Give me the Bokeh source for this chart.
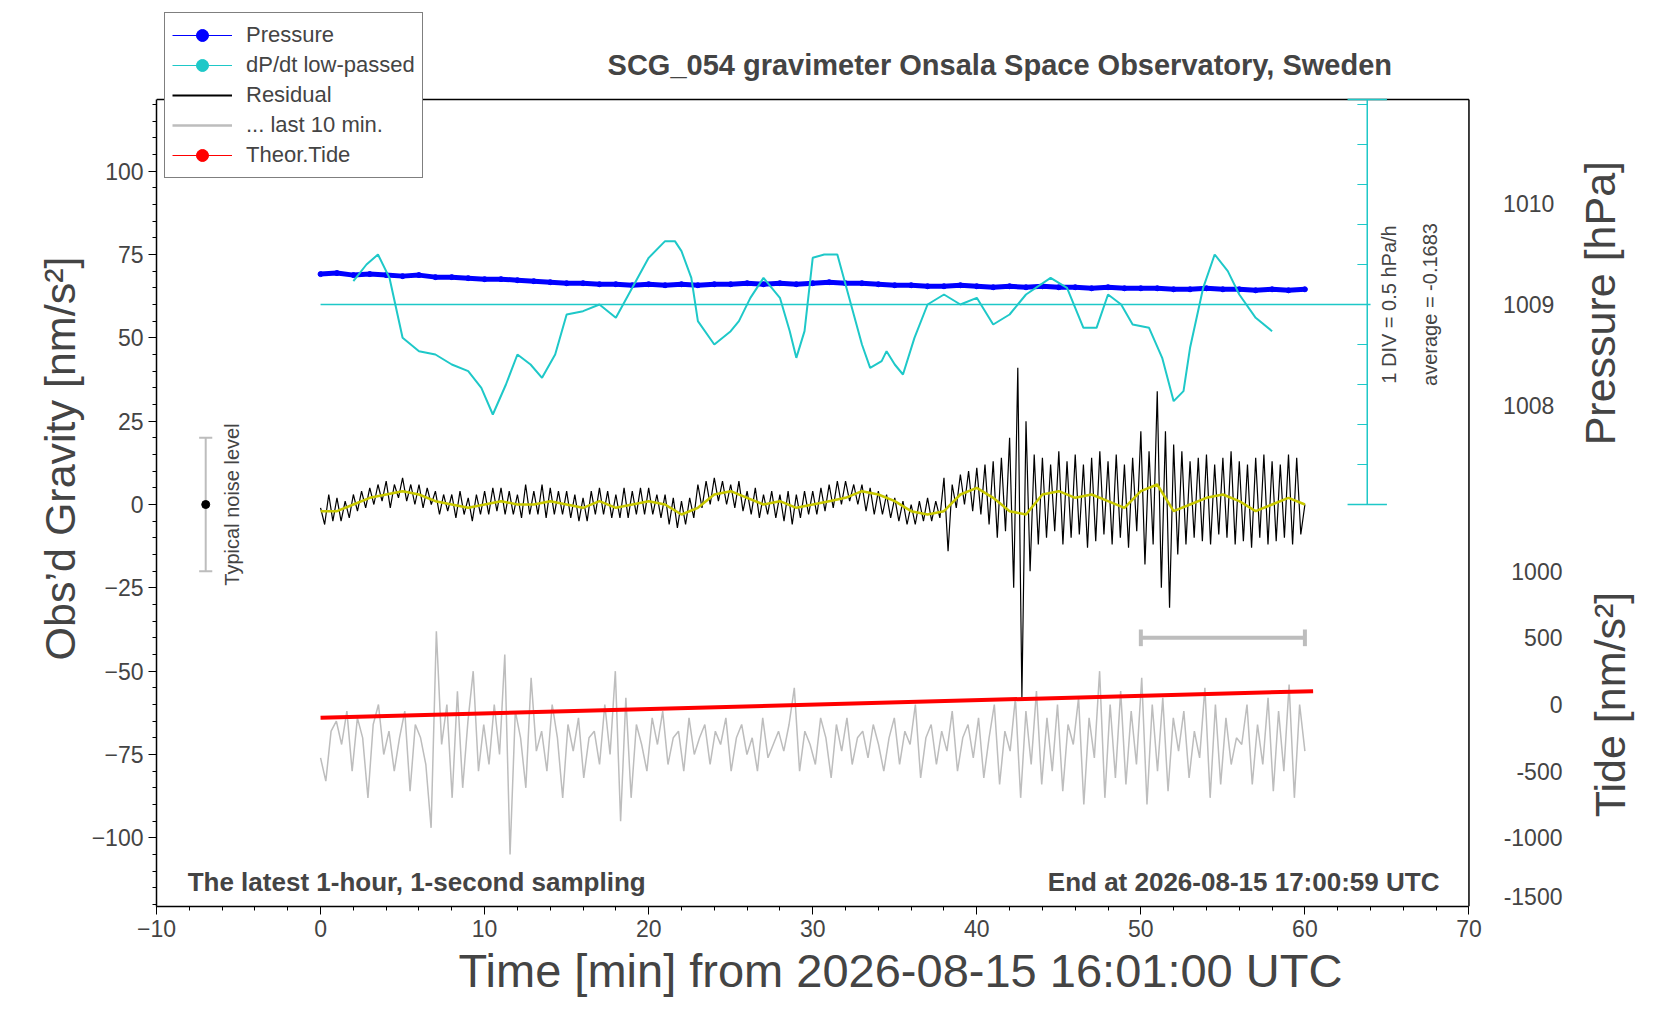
import numpy as np
from bokeh.plotting import figure
from bokeh.models import Range1d, FixedTicker, Label, Legend, LegendItem
from bokeh.embed import file_html
from bokeh.resources import INLINE

FONT = "Liberation Sans"

# ---------------- data ----------------
pressure_t = list(range(0, 61))
pressure_hpa = [1009.30,1009.31,1009.29,1009.30,1009.29,1009.28,1009.29,1009.27,1009.27,1009.26,
                1009.25,1009.25,1009.24,1009.23,1009.22,1009.21,1009.21,1009.20,1009.20,1009.19,
                1009.20,1009.19,1009.20,1009.19,1009.20,1009.20,1009.21,1009.20,1009.21,1009.20,
                1009.21,1009.22,1009.21,1009.21,1009.20,1009.19,1009.19,1009.18,1009.18,1009.19,
                1009.18,1009.17,1009.18,1009.17,1009.18,1009.17,1009.17,1009.16,1009.17,1009.16,
                1009.16,1009.16,1009.15,1009.15,1009.16,1009.15,1009.15,1009.14,1009.15,1009.14,1009.15]

dpdt_t = [2,2.8,3.5,4.2,5,6,7,8,9,9.8,10.5,11.3,12,12.8,13.5,14.3,15,16,17,18,19,20,21,21.6,
          22,22.6,23,24,25,25.5,26.2,27,28,28.6,29,29.5,30,30.7,31.5,32,32.5,33,33.5,34.2,34.5,
          35,35.5,36.2,37,38,39,40,41,42,43,44.5,45.5,46.5,47.3,48,48.8,49.5,50.5,51.3,52,52.6,
          53,53.8,54.5,55.3,56,57,58]
dpdt_v = [67,72,75,68,50,46,45,42,40,35,27,36,45,42,38,45,57,58,60,56,65,74,79,79,
          76,68,55,48,52,55,62,68,62,52,44,52,74,75,75,66,57,48,41,43,46,
          42,39,50,60,63,60,62,54,57,63,68,65,53,53,63,60,54,53,44,31,34,
          47,65,75,70,63,56,52]

smooth_v = [-2,-2,0,2,3,4,3,1,0,-1,0,1,0,0,1,0,-1,1,-1,0,1,0,-3,-1,3,4,2,0,1,-1,
            0,1,2,4,3,1,-2,-3,-2,3,5,2,-2,-3,3,4,2,3,1,-1,4,6,-2,0,2,3,1,-2,0,2,0]

residual_rows = [
 [-1,-6,3,-5],[2,-5,1,-4],[3,-2,4,-1],[5,0,6,1],[7,-1,6,2],[8,1,6,0],[6,-1,5,0],[4,-3,3,-2],
 [3,-4,4,-3],[2,-5,3,-3],[4,-3,5,-2],[5,-3,4,-3],[3,-4,6,-3],[4,-3,6,-4],[5,-3,4,-3],[4,-4,3,-5],
 [2,-5,4,-3],[5,-3,4,-4],[3,-4,5,-4],[4,-3,5,-3],[5,-3,3,-4],[3,-6,2,-7],[1,-6,2,-4],[6,-1,7,0],
 [8,1,7,0],[6,-1,7,-2],[4,-3,5,-4],[3,-3,4,-4],[3,-5,4,-6],[3,-4,4,-3],[4,-3,5,-2],[6,-1,7,0],
 [7,1,6,0],[6,-2,5,-3],[4,-3,3,-4],[2,-5,1,-6],[0,-6,1,-5],[2,-5,1,-4],[8,-14,6,-1],[9,0,10,-2],
 [11,-3,12,-6],[13,-10,14,-8],[20,-25,41,-58],[25,-20,15,-12],[14,-10,12,-8],[16,-12,13,-10],
 [15,-9,12,-13],[14,-11,16,-9],[13,-12,15,-10],[12,-13,14,-8],[22,-18,16,-12],[34,-25,22,-31],
 [18,-15,16,-12],[13,-10,14,-11],[15,-12,12,-9],[14,-10,16,-12],[13,-11,12,-13],[14,-10,15,-12],
 [13,-11,12,-10],[15,-12,14,-9]]
residual_end = 0

gray_v = [
 -76,-83,-68,-65, -72,-62,-80,-64, -70,-88,-66,-60, -75,-68,-80,-70, -62,-86,-66,-70,
 -78,-97,-38,-72, -60,-88,-56,-85, -65,-50,-80,-66, -78,-60,-75,-45, -105,-62,-70,-85,
 -52,-74,-68,-80, -60,-70,-88,-66, -74,-64,-82,-70, -68,-78,-60,-75, -50,-95,-58,-88,
 -66,-72,-80,-64, -72,-62,-78,-70, -68,-80,-64,-75, -70,-66,-78,-68, -72,-64,-80,-70,
 -66,-75,-70,-80, -64,-76,-72,-68, -74,-66,-55,-80, -68,-72,-78,-64, -70,-82,-66,-74,
 -64,-78,-70,-68, -76,-66,-72,-80, -70,-64,-78,-68, -72,-60,-82,-70, -66,-78,-68,-74,
 -62,-80,-70,-66, -76,-64,-82,-70, -60,-84,-68,-74, -58,-88,-62,-78, -56,-84,-64,-80,
 -60,-86,-66,-72, -58,-90,-64,-76, -50,-88,-60,-82, -56,-84,-62,-78, -52,-90,-60,-80,
 -58,-86,-64,-74, -62,-82,-68,-76, -55,-88,-60,-84, -64,-78,-70,-72, -60,-84,-66,-78,
 -58,-86,-62,-80, -54,-88,-60,-74]

tide_t = [0, 60.5]
tide_v = [-64, -56]   # in left-axis units

press_ticks = [1008, 1009, 1010]
tide_ticks = [1000, 500, 0, -500, -1000, -1500]

def p2g(v):
    return 60 + (v - 1009) * 30.4

def t2g(v):
    return -60 + v * 0.04

residual_v = [v for row in residual_rows for v in row] + [residual_end]
res_t = np.arange(len(residual_v)) * 0.25
gray_t = np.arange(len(gray_v)) * (60.0 / (len(gray_v) - 1))

CYAN = "#1ec8c8"
YB, YT = -120.6, 121.5
p = figure(width=1644, height=1004, output_backend="svg", toolbar_location=None,
           x_range=Range1d(-10, 80.7), y_range=Range1d(YB, 148.2),
           min_border_left=156, min_border_right=0, min_border_top=10, min_border_bottom=98)
p.grid.visible = False
p.outline_line_color = None

p.xaxis.ticker = FixedTicker(ticks=list(range(-10, 71, 10)), minor_ticks=list(range(-10, 71, 2)))
p.yaxis.ticker = FixedTicker(ticks=[-100, -75, -50, -25, 0, 25, 50, 75, 100],
                             minor_ticks=list(range(-120, 121, 5)))
p.xaxis.bounds = (-10, 70)
p.yaxis.bounds = (YB, YT)
for ax in (p.xaxis[0], p.yaxis[0]):
    ax.major_label_text_font = FONT
    ax.major_label_text_font_size = "23px"
    ax.axis_label_text_font = FONT
    ax.axis_label_text_font_style = "normal"
    ax.axis_line_width = 1.5
    ax.major_tick_out = 8
    ax.minor_tick_out = 4
    ax.major_tick_in = 0
    ax.minor_tick_in = 0
p.xaxis.axis_label = "Time [min] from 2026-08-15 16:01:00 UTC"
p.xaxis.axis_label_text_font_size = "47px"
p.xaxis.axis_label_standoff = 4
p.yaxis.axis_label = "Obs\u2019d Gravity [nm/s\u00b2]"
p.yaxis.axis_label_text_font_size = "43px"

# frame top and right edges
p.line([-10, 70], [YT, YT], line_color="black", line_width=1.5)
p.line([70, 70], [YB, YT], line_color="black", line_width=1.5)

# gray last 10 min
p.line(gray_t, gray_v, line_color="#bdbdbd", line_width=1.5)
# residual
p.line(res_t, residual_v, line_color="black", line_width=1.2)
p.line(list(range(0, 61)), smooth_v, line_color="#c8c800", line_width=2.5)
# tide
p.line(tide_t, tide_v, line_color="red", line_width=4)
# pressure
pg = [p2g(v) for v in pressure_hpa]
p.line(pressure_t, pg, line_color="blue", line_width=5)
p.scatter(pressure_t, pg, color="blue", size=5)
# dP/dt
p.line(dpdt_t, dpdt_v, line_color=CYAN, line_width=2)
p.line([0, 64], [60, 60], line_color=CYAN, line_width=1.5)
p.line([63.8, 63.8], [0, YT], line_color=CYAN, line_width=1.5)
div_ticks = [12 * i for i in range(11)]
p.segment(x0=[63.2] * len(div_ticks), y0=div_ticks, x1=[63.8] * len(div_ticks), y1=div_ticks,
          line_color=CYAN, line_width=1)
p.segment(x0=[62.6, 62.6], y0=[0, YT], x1=[65.0, 65.0], y1=[0, YT], line_color=CYAN, line_width=1.5)

# 10 min bar
p.segment(x0=[50], y0=[-40], x1=[60], y1=[-40], line_color="#bdbdbd", line_width=4)
p.segment(x0=[50, 60], y0=[-42.5, -42.5], x1=[50, 60], y1=[-37.5, -37.5], line_color="#bdbdbd", line_width=4)

# noise level
p.segment(x0=[-7], y0=[-20], x1=[-7], y1=[20], line_color="#bdbdbd", line_width=2)
p.segment(x0=[-7.4, -7.4], y0=[-20, 20], x1=[-6.6, -6.6], y1=[-20, 20], line_color="#bdbdbd", line_width=2)
p.scatter([-7], [0], color="black", size=8)

def lab(x, y, t, size, bold=False, align="left", angle=0, baseline="middle"):
    p.add_layout(Label(x=x, y=y, text=t, text_font=FONT, text_font_size=size,
                       text_font_style="bold" if bold else "normal", text_align=align,
                       text_baseline=baseline, angle=angle, angle_units="deg"))

# right axis tick labels
for v in press_ticks:
    lab(75.2, p2g(v), str(v), "23px", align="right")
for v in tide_ticks:
    lab(75.7, t2g(v), str(v), "23px", align="right",
        baseline="bottom" if v == -1500 else "middle")

lab(-5.4, 0, "Typical noise level", "20px", align="center", angle=90)
lab(65.1, 60, "1 DIV = 0.5 hPa/h", "20px", align="center", angle=90)
lab(67.6, 60, "average = -0.1683", "20px", align="center", angle=90)
lab(-8.1, -113.2, "The latest 1-hour, 1-second sampling", "26px", bold=True)
lab(68.2, -113.2, "End at 2026-08-15 17:00:59 UTC", "26px", bold=True, align="right")
lab(41.4, 132, "SCG_054 gravimeter Onsala Space Observatory, Sweden", "29px", bold=True, align="center")
lab(78.0, 60.4, "Pressure [hPa]", "43px", align="center", angle=90)
lab(78.6, -60, "Tide [nm/s\u00b2]", "43px", align="center", angle=90)

# legend proxies (drawn off-screen)
OX, OY = [-200, -199], [-500, -500]
lp_l = p.line(OX, OY, line_color="blue", line_width=1)
lp = p.scatter(OX, OY, color="blue", size=6)
ld_l = p.line(OX, OY, line_color=CYAN, line_width=1)
ld = p.scatter(OX, OY, color=CYAN, size=6)
lr_l = p.line(OX, OY, line_color="black", line_width=2)
lg_l = p.line(OX, OY, line_color="#bdbdbd", line_width=2.5)
lt_l = p.line(OX, OY, line_color="red", line_width=1)
lt = p.scatter(OX, OY, color="red", size=6)
legend = Legend(items=[
    LegendItem(label="Pressure", renderers=[lp_l, lp]),
    LegendItem(label="dP/dt low-passed", renderers=[ld_l, ld]),
    LegendItem(label="Residual", renderers=[lr_l]),
    LegendItem(label="... last 10 min.", renderers=[lg_l]),
    LegendItem(label="Theor.Tide", renderers=[lt_l, lt]),
], location=(8, 728), label_text_font=FONT, label_text_font_size="22px",
   border_line_color="black", border_line_width=1, glyph_width=60, spacing=0,
   label_height=30, glyph_height=30, padding=7, margin=0, label_standoff=14,
   background_fill_alpha=1.0)
p.add_layout(legend, "center")

open("out.html", "w").write(file_html(p, INLINE))
